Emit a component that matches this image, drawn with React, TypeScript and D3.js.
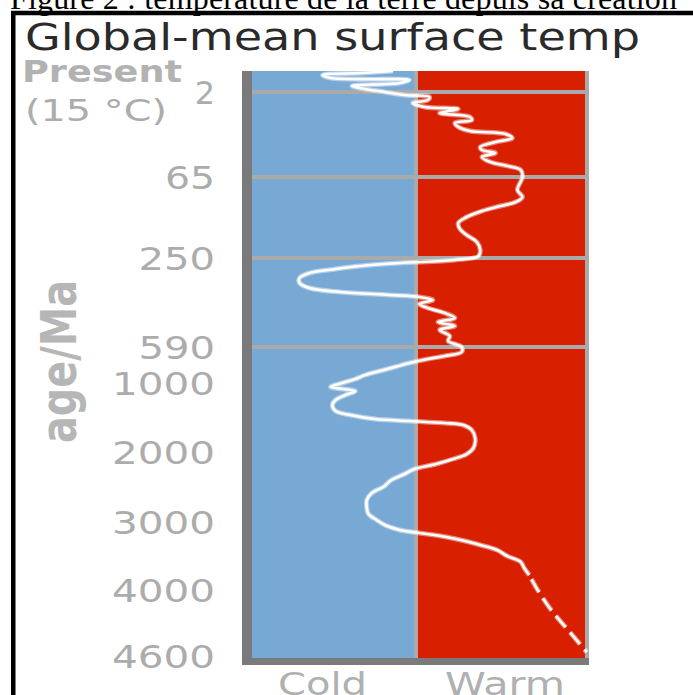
import React from "react";
import * as d3 from "d3";

// ---- data (age in Ma, relative temperature: -1 cold .. +1 warm) ----
const ages = [
  0, 0.19, 0.38, 0.67, 0.86, 1.14, 1.43, 1.71, 2.0, 4.2,
  5.7, 7.9, 10.2, 13.1, 14.6, 17.6, 20.5, 22.8, 25.0, 27.9,
  30.9, 33.1, 36.1, 39.1, 42.8, 45.0, 47.2, 50.2, 53.9, 56.8,
  59.8, 65, 94.7, 110.7, 122.1, 131.2, 142.7, 156.4, 170.1, 183.8,
  197.5, 213.5, 231.7, 245.4, 257.6, 269.1, 280.6, 292.0, 307.3, 326.4,
  345.5, 364.6, 379.9, 391.3, 399.0, 410.4, 425.7, 441.0, 460.1, 479.2,
  494.5, 509.8, 525.0, 548.0, 567.1, 590, 646.9, 692.5, 726.7, 772.2,
  817.8, 863.3, 908.9, 954.4, 1000, 1058, 1116, 1174, 1246, 1319,
  1406, 1464, 1522, 1551, 1580, 1609, 1681, 1797, 1942, 2029,
  2100, 2171, 2243, 2314, 2400, 2500, 2586, 2686, 2800, 2886,
  2971, 3044, 3118, 3162, 3221, 3279, 3338, 3412, 3500, 3588,
  3676, 3779, 4000, 4182, 4364, 4564,
];
const temps = [
  -0.14, -0.33, -0.57, -0.52, -0.04, -0.1, -0.39, -0.31, -0.19, -0.07,
  0.08, 0.07, -0.02, 0.05, 0.25, 0.14, 0.32, 0.33, 0.23, 0.25,
  0.32, 0.53, 0.57, 0.47, 0.38, 0.39, 0.47, 0.39, 0.44, 0.54,
  0.62, 0.63, 0.6, 0.63, 0.59, 0.5, 0.39, 0.3, 0.25, 0.26,
  0.3, 0.36, 0.38, 0.37, 0.23, -0.1, -0.34, -0.49, -0.65, -0.71,
  -0.71, -0.65, -0.46, -0.16, 0.02, 0.1, 0.02, 0.07, 0.17, 0.23,
  0.13, 0.23, 0.14, 0.2, 0.19, 0.27, 0.27, 0.17, 0.07, -0.04,
  -0.13, -0.22, -0.31, -0.37, -0.45, -0.52, -0.37, -0.43, -0.49, -0.51,
  -0.49, -0.4, -0.25, -0.04, 0.17, 0.28, 0.33, 0.35, 0.34, 0.3,
  0.22, 0.12, -0.01, -0.07, -0.15, -0.2, -0.27, -0.3, -0.3, -0.29,
  -0.24, -0.19, -0.1, 0.02, 0.18, 0.29, 0.38, 0.48, 0.54, 0.62,
  0.64, 0.67, 0.72, 0.8, 0.9, 1.01,
];
const dashedFromAge = 3779; // uncertain (dotted) part of the record

const scaleAges = [0, 2, 65, 250, 590, 1000, 2000, 3000, 4000, 4600];
const tickAges = [2, 65, 250, 590, 1000, 2000, 3000, 4000, 4600];
const gridAges = [2, 65, 250, 590];
const tempDomain = [-1, 0, 1];

const caption = "Figure 2 : température de la terre depuis sa création";
const title = "Global-mean surface temp";
const presentLabel = "Present";
const presentTemp = "(15 °C)";
const yTitle = "age/Ma";
const coldLabel = "Cold";
const warmLabel = "Warm";

// ---- layout ----
const W = 693;
const H = 695;
const plotTop = 71;
const plotBottom = 658;
const coldLeft = 252;
const divider = 416;
const warmRight = 585;

const y = d3
  .scaleLinear()
  .domain(scaleAges)
  .range([71, 92, 177, 258, 347, 383, 452, 522, 590, 656]);
const x = d3.scaleLinear().domain(tempDomain).range([coldLeft, divider, warmRight]);

const FONT = "'DejaVu Sans', sans-serif";
const GRAY = "#acacac";

export default function App() {
  const pts = ages.map((a, i) => [a, temps[i]] as [number, number]);
  const line = d3
    .line<[number, number]>()
    .x((d) => x(d[1]))
    .y((d) => y(d[0]))
    .curve(d3.curveCatmullRom.alpha(0.5));
  const solid = pts.filter((d) => d[0] <= dashedFromAge);
  const dashed = pts.filter((d) => d[0] >= dashedFromAge);
  const solidPath = line(solid) || "";
  const dashedPath = line(dashed) || "";

  return (
    <svg
      width={W}
      height={H}
      style={{ position: "absolute", left: 0, top: 0, display: "block", background: "#fff" }}
    >
      {/* caption (cut off at the top) */}
      <text
        x={10}
        y={8.5}
        fontFamily="'Liberation Serif', 'Times New Roman', serif"
        fontSize={32}
        fill="#000"
        textLength={667}
        lengthAdjust="spacing"
      >
        {caption}
      </text>
      {/* frame */}
      <rect x={13.25} y={13} width={900} height={900} fill="none" stroke="#000" strokeWidth={4.5} />

      {/* title */}
      <text x={25} y={50} fontFamily={FONT} fontSize={38} fill="#2a2a2a" textLength={615} lengthAdjust="spacingAndGlyphs">
        {title}
      </text>

      {/* panels */}
      <rect x={coldLeft} y={plotTop} width={divider - coldLeft} height={plotBottom - plotTop} fill="#78a8d4" />
      <rect x={divider} y={plotTop} width={warmRight - divider} height={plotBottom - plotTop} fill="#d81f00" />

      {/* grid lines */}
      {gridAges.map((a) => (
        <line key={a} x1={coldLeft} x2={warmRight + 4} y1={y(a)} y2={y(a)} stroke="#aaaaaa" strokeWidth={4} />
      ))}
      {/* divider & right border */}
      <line x1={divider} x2={divider} y1={plotTop} y2={plotBottom} stroke="#aaaaaa" strokeWidth={4} />
      <line x1={warmRight + 2} x2={warmRight + 2} y1={plotTop} y2={plotBottom} stroke="#aaaaaa" strokeWidth={4} />

      {/* temperature curve */}
      <path d={solidPath} fill="none" stroke="#fff" strokeOpacity={0.45} strokeWidth={5} strokeLinejoin="round" />
      <path d={solidPath} fill="none" stroke="#fff" strokeWidth={2.6} strokeLinejoin="round" />
      <path
        d={dashedPath}
        fill="none"
        stroke="#fff"
        strokeOpacity={0.45}
        strokeWidth={5}
        strokeDasharray="15 7"
        strokeDashoffset={17}
      />
      <path d={dashedPath} fill="none" stroke="#fff" strokeWidth={2.6} strokeDasharray="15 7" strokeDashoffset={17} />

      {/* left & bottom axis bars */}
      <rect x={242} y={plotTop} width={10} height={665 - plotTop} fill="#7a7a7a" />
      <rect x={242} y={plotBottom} width={warmRight + 4 - 242} height={7} fill="#7a7a7a" />

      {/* y tick labels */}
      {tickAges.map((a) => {
        const s = String(a);
        return (
          <text
            key={a}
            x={215}
            y={y(a) + 11.5}
            textAnchor="end"
            fontFamily={FONT}
            fontSize={32}
            fill={GRAY}
            {...(s.length > 1 ? { textLength: s.length * 26.5 - 3, lengthAdjust: "spacingAndGlyphs" } : {})}
          >
            {s}
          </text>
        );
      })}
      <text x={22} y={82} fontFamily={FONT} fontSize={30} fill="#b2b2b2" fontWeight="bold" textLength={160} lengthAdjust="spacingAndGlyphs">
        {presentLabel}
      </text>
      <text x={25} y={121} fontFamily={FONT} fontSize={31} fill={GRAY} textLength={142} lengthAdjust="spacingAndGlyphs">
        {presentTemp}
      </text>

      {/* y axis title */}
      <text
        transform="translate(76,361.5) rotate(-90)"
        textAnchor="middle"
        fontFamily={FONT}
        fontSize={50}
        fontWeight="bold"
        fill="#b6b6b6"
        textLength={163}
        lengthAdjust="spacingAndGlyphs"
      >
        {yTitle}
      </text>

      {/* x labels */}
      <text x={278} y={695} fontFamily={FONT} fontSize={32} fill="#b0b0b0" textLength={89} lengthAdjust="spacingAndGlyphs">
        {coldLabel}
      </text>
      <text x={445} y={695} fontFamily={FONT} fontSize={32} fill="#b0b0b0" textLength={120} lengthAdjust="spacingAndGlyphs">
        {warmLabel}
      </text>
    </svg>
  );
}
